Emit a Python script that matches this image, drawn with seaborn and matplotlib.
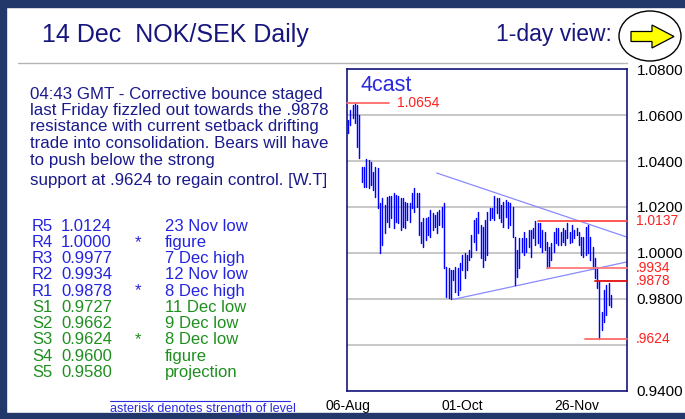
import matplotlib
matplotlib.use("Agg")
import matplotlib.pyplot as plt
import seaborn as sns
import pandas as pd
from matplotlib.patches import Ellipse, Polygon, Rectangle
from matplotlib.lines import Line2D

# ---------------- data ----------------
bar_high = [1.0578, 1.0621, 1.0643, 1.0654, 1.0643, 1.0600, 1.0373, 1.0373, 1.0408, 1.0404,
            1.0395, 1.0351, 1.0373, 1.0369, 1.0216, 1.0238, 1.0207, 1.0242, 1.0247, 1.0247,
            1.0260, 1.0251, 1.0247, 1.0238, 1.0238, 1.0221, 1.0216, 1.0216, 1.0260, 1.0282,
            1.0260, 1.0260, 1.0133, 1.0151, 1.0151, 1.0155, 1.0186, 1.0173, 1.0164, 1.0177,
            1.0186, 1.0199, 1.0216, 0.9937, 0.9933, 0.9924, 0.9924, 0.9937, 0.9933, 0.9955,
            0.9990, 0.9998, 0.9990, 1.0011, 1.0077, 1.0142, 1.0151, 1.0177, 1.0120, 1.0112,
            1.0142, 1.0177, 1.0194, 1.0194, 1.0247, 1.0238, 1.0238, 1.0207, 1.0221, 1.0229,
            1.0221, 1.0216, 1.0199, 1.0068, 1.0011, 1.0064, 1.0064, 1.0090, 1.0064, 1.0099,
            1.0099, 1.0107, 1.0137, 1.0129, 1.0129, 1.0099, 1.0090, 1.0046, 1.0024, 1.0042,
            1.0090, 1.0107, 1.0107, 1.0090, 1.0107, 1.0099, 1.0129, 1.0090, 1.0120, 1.0099,
            1.0107, 1.0090, 1.0068, 1.0068, 1.0112, 1.0120, 1.0068, 1.0024, 0.9977, 0.9937,
            0.9878, 0.9741, 0.9837, 0.9859, 0.9868, 0.9815]
bar_low = [1.0521, 1.0556, 1.0587, 1.0565, 1.0460, 1.0412, 1.0308, 1.0286, 1.0286, 1.0282,
           1.0295, 1.0273, 1.0242, 1.0194, 0.9998, 1.0033, 1.0085, 1.0133, 1.0112, 1.0151,
           1.0107, 1.0133, 1.0129, 1.0099, 1.0112, 1.0107, 1.0142, 1.0133, 1.0194, 1.0177,
           1.0199, 1.0077, 1.0042, 1.0024, 1.0055, 1.0077, 1.0068, 1.0099, 1.0112, 1.0085,
           1.0120, 1.0112, 0.9933, 0.9807, 0.9802, 0.9798, 0.9881, 0.9828, 0.9815, 0.9837,
           0.9924, 0.9889, 0.9924, 0.9968, 0.9981, 1.0046, 1.0011, 1.0085, 0.9977, 0.9937,
           0.9968, 0.9990, 1.0142, 1.0151, 1.0142, 1.0173, 1.0151, 1.0133, 1.0112, 1.0155,
           1.0107, 1.0120, 1.0068, 0.9859, 0.9894, 0.9933, 1.0003, 0.9990, 1.0003, 1.0024,
           0.9981, 1.0064, 1.0033, 1.0042, 1.0024, 1.0003, 1.0011, 0.9934, 0.9937, 0.9968,
           1.0003, 1.0042, 1.0033, 1.0033, 1.0046, 1.0033, 1.0064, 1.0042, 1.0046, 1.0064,
           1.0077, 1.0033, 0.9990, 0.9981, 0.9990, 0.9998, 0.9968, 0.9933, 0.9889, 0.9846,
           0.9624, 0.9662, 0.9698, 0.9727, 0.9772, 0.9763]

x_tick_pos = [0, 50, 100]
x_tick_labels = ["06-Aug", "01-Oct", "26-Nov"]
y_ticks = [0.94, 0.96, 0.98, 1.00, 1.02, 1.04, 1.06, 1.08]
y_tick_labels = ["0.9400", "", "0.9800", "1.0000", "1.0200", "1.0400", "1.0600", "1.0800"]

mark_values = [1.0654, 1.0137, 0.9934, 0.9878, 0.9624]
mark_labels = ["1.0654", "1.0137", ".9934", ".9878", ".9624"]
mark_start = [-0.3, 83.1, 87.0, 108.0, 103.6]
mark_end = [17.9, 122.0, 122.0, 122.0, 122.0]
mark_colors = ["#ff6a6a", "#ff4a4a", "#ff7a7a", "#e01010", "#ff6a6a"]

trend_upper_x = [38.8, 121.9]
trend_upper_y = [1.0348, 1.0069]
trend_lower_x = [46.0, 124.1]
trend_lower_y = [0.9797, 0.9965]

title_text = "14 Dec  NOK/SEK Daily"
view_text = "1-day view:"
comment_lines = ["04:43 GMT - Corrective bounce staged",
                 "last Friday fizzled out towards the .9878",
                 "resistance with current setback drifting",
                 "trade into consolidation. Bears will have",
                 "to push below the strong",
                 "support at .9624 to regain control. [W.T]"]
level_names = ["R5", "R4", "R3", "R2", "R1", "S1", "S2", "S3", "S4", "S5"]
level_values = ["1.0124", "1.0000", "0.9977", "0.9934", "0.9878",
                "0.9727", "0.9662", "0.9624", "0.9600", "0.9580"]
level_stars = ["", "*", "", "", "*", "", "", "*", "", ""]
level_desc = ["23 Nov low", "figure", "7 Dec high", "12 Nov low", "8 Dec high",
              "11 Dec low", "9 Dec low", "8 Dec low", "figure", "projection"]

# ---------------- style ----------------
sns.set_style("white")
plt.rcParams["font.family"] = ["Liberation Sans", "DejaVu Sans"]

W, H = 685, 419
fig = plt.figure(figsize=(W / 100, H / 100), dpi=100)
fig.patch.set_facecolor("white")

def fx(x):
    return x / W

def fy(y):
    return 1 - y / H

NAVY = "#16167e"
BLUE_R = "#2424e0"
GREEN_S = "#1f8f1f"

# axes: left 347.3, right 626.7, top 69.3, bottom 390.5 (pixels)
ax = fig.add_axes([fx(347.3), fy(390.5), (626.7 - 347.3) / W, (390.5 - 69.3) / H])

idx = list(range(len(bar_high)))
df = pd.DataFrame({
    "idx": idx + idx,
    "price": bar_high + bar_low,
})
sns.lineplot(data=df, x="idx", y="price", units="idx", estimator=None,
             color="#0000ff", linewidth=1.05, ax=ax, legend=False, zorder=3)

# trend lines
sns.lineplot(x=trend_upper_x, y=trend_upper_y, color="#8a8aff", linewidth=0.9, ax=ax, zorder=2)
sns.lineplot(x=trend_lower_x, y=trend_lower_y, color="#8a8aff", linewidth=0.9, ax=ax, zorder=2)

# marked levels
for v, s, e, c in zip(mark_values, mark_start, mark_end, mark_colors):
    ax.plot([s, e], [v, v], color=c, linewidth=1.3, zorder=4, clip_on=False)

ax.set_xlim(-0.3, 121.9)
ax.set_ylim(0.94, 1.08)
ax.set_xlabel("")
ax.set_ylabel("")
ax.set_yticks(y_ticks)
ax.set_yticklabels(y_tick_labels)
ax.yaxis.tick_right()
ax.set_xticks(x_tick_pos)
ax.set_xticklabels(x_tick_labels)
ax.grid(axis="y", color="#c8c8c8", linewidth=1.4)
ax.grid(axis="x", visible=False)
ax.set_axisbelow(True)
ax.tick_params(axis="y", length=0, pad=7, labelsize=11, labelcolor="black")
ax.tick_params(axis="x", direction="in", length=3, width=1, color=NAVY,
               labelsize=10, pad=6, labelcolor="black")
for sp in ax.spines.values():
    sp.set_visible(True)
    sp.set_color(NAVY)
    sp.set_linewidth(1.2)

# right-side red level labels
for v, lab in zip(mark_values[1:], mark_labels[1:]):
    ax.text(1.033, v, lab, transform=ax.get_yaxis_transform(), color="#ff2020",
            fontsize=10, ha="left", va="center", clip_on=False)
# high label inside plot
ax.text(21.4, mark_values[0], mark_labels[0], color="#ff2020", fontsize=10,
        ha="left", va="center")
ax.text(0.049, 0.951, "4cast", transform=ax.transAxes, color="#2a2ae0",
        fontsize=15.5, ha="left", va="center")

# ---------------- figure decorations ----------------
fig.patches.append(Rectangle((0, fy(7)), 1, 7 / H, transform=fig.transFigure,
                             color="#22386a", zorder=0))
fig.patches.append(Rectangle((0, 0), fx(6), 1, transform=fig.transFigure,
                             color="#22386a", zorder=0))
fig.patches.append(Rectangle((0, 0), 1, 6 / H, transform=fig.transFigure,
                             color="#22386a", zorder=0))
fig.lines.append(Line2D([fx(18), fx(627)], [fy(62.7), fy(62.7)], transform=fig.transFigure,
                        color="#b4b4b4", linewidth=1))

fig.text(fx(42), fy(35), title_text, color=NAVY, fontsize=18, ha="left", va="center")
fig.text(fx(612), fy(35), view_text, color=NAVY, fontsize=16.5, ha="right", va="center")

# arrow icon
fig.patches.append(Ellipse((fx(650), fy(36)), 62 / W, 50 / H, transform=fig.transFigure,
                           facecolor="white", edgecolor="black", linewidth=1))
arrow_px = [(631, 31.5), (652, 31.5), (652, 25), (674, 36.5), (652, 48), (652, 41.5), (631, 41.5)]
fig.patches.append(Polygon([(fx(a), fy(b)) for a, b in arrow_px], closed=True,
                           transform=fig.transFigure, facecolor="#ffff00",
                           edgecolor="black", linewidth=0.9))

comment_y = [94, 110.5, 127, 143.5, 160, 180]
for line, y in zip(comment_lines, comment_y):
    fig.text(fx(30), fy(y), line, color="#1a1a8c", fontsize=12.2, ha="left", va="center")

for k, (n, v, s, d) in enumerate(zip(level_names, level_values, level_stars, level_desc)):
    y = 226 + 16.28 * k
    col = BLUE_R if n.startswith("R") else GREEN_S
    fig.text(fx(32), fy(y), n, color=col, fontsize=12, ha="left", va="center")
    fig.text(fx(61), fy(y), v, color=col, fontsize=12, ha="left", va="center")
    if s:
        fig.text(fx(138), fy(y), s, color=col, fontsize=12, ha="center", va="center")
    fig.text(fx(165), fy(y), d, color=col, fontsize=12, ha="left", va="center")

fig.lines.append(Line2D([fx(110), fx(290)], [fy(401), fy(401)], transform=fig.transFigure,
                        color="#2a2ae0", linewidth=0.8))
fig.text(fx(110), fy(408.5), "asterisk denotes strength of level", color="#2a2ae0",
         fontsize=9.1, ha="left", va="center")

fig.savefig("out.png", dpi=100)
